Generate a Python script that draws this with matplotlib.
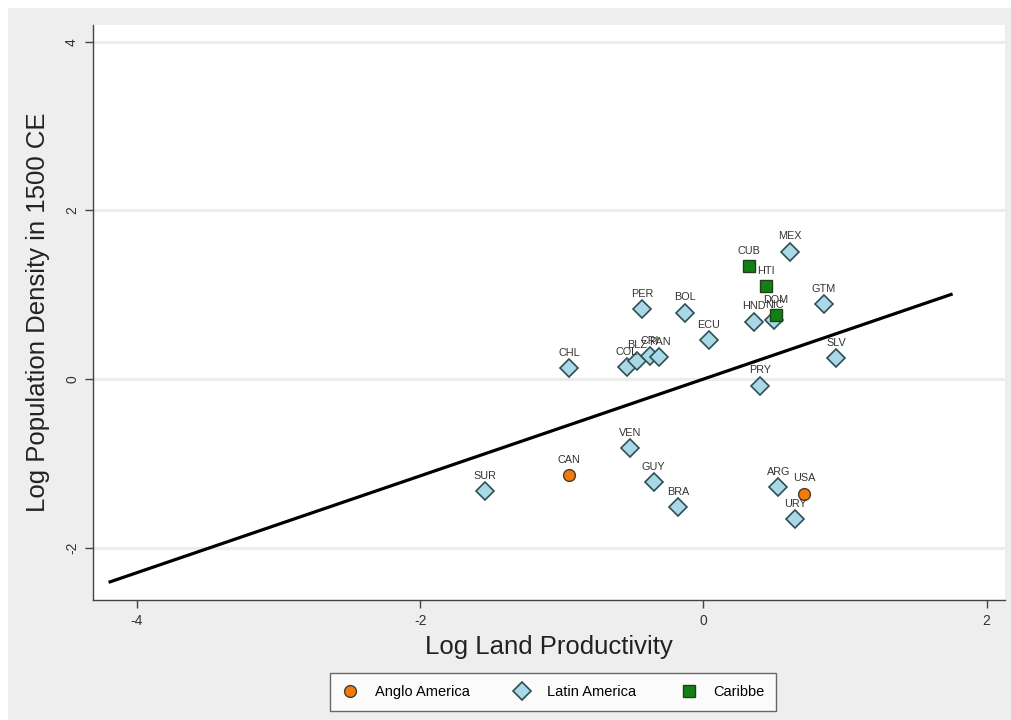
import numpy as np
import matplotlib
matplotlib.use("Agg")
import matplotlib.pyplot as plt
from matplotlib.patches import Rectangle

plt.rcParams['font.family'] = ['Liberation Sans', 'DejaVu Sans']
plt.rcParams['axes.unicode_minus'] = False

# ==================================================
# DATA
# ==================================================

latin_codes = ["MEX", "GTM", "SLV", "PRY", "HND", "NIC", "ECU", "BOL", "PER",
               "CHL", "COL", "BLZ", "CRI", "PAN", "VEN", "GUY", "BRA", "ARG",
               "URY", "SUR"]
latin_x = [0.61, 0.85, 0.94, 0.40, 0.36, 0.50, 0.04, -0.13, -0.43,
           -0.95, -0.54, -0.47, -0.38, -0.31, -0.52, -0.35, -0.18, 0.53,
           0.65, -1.54]
latin_y = [1.51, 0.89, 0.25, -0.08, 0.68, 0.70, 0.46, 0.79, 0.83,
           0.13, 0.14, 0.22, 0.27, 0.26, -0.82, -1.22, -1.52, -1.28,
           -1.66, -1.33]

anglo_codes = ["CAN", "USA"]
anglo_x = [-0.95, 0.71]
anglo_y = [-1.14, -1.36]

carib_codes = ["CUB", "HTI", "DOM"]
carib_x = [0.32, 0.44, 0.51]
carib_y = [1.34, 1.10, 0.76]

# fitted line
fit_slope = 0.574
fit_intercept = 0.0
fit_range = [-4.2, 1.76]

# ==================================================
# FIGURE
# ==================================================

fig = plt.figure(figsize=(10.11, 7.2), dpi=100)
fig.patch.set_facecolor("#eeeeee")
# thin white margin on the left and top
fig.patches.append(Rectangle((0, 0), 8 / 1011, 1, transform=fig.transFigure,
                             facecolor="white", edgecolor="none", zorder=0))
fig.patches.append(Rectangle((0, 1 - 8 / 720), 1, 8 / 720, transform=fig.transFigure,
                             facecolor="white", edgecolor="none", zorder=0))

ax = fig.add_axes([93 / 1011, 1 - 600 / 720, (1005 - 93) / 1011, (600 - 25) / 720])
ax.set_facecolor("white")

ax.set_xlim(-4.31, 2.13)
ax.set_ylim(-2.62, 4.2)

for gy in [-2, 0, 2, 4]:
    ax.axhline(gy, color="#ececec", lw=2.2, zorder=0)

# regression line
fx = np.array(fit_range)
ax.plot(fx, fit_slope * fx + fit_intercept, color="black", lw=2.3, zorder=2,
        solid_capstyle="butt")

ax.plot(anglo_x, anglo_y, "o", ms=8.5, mfc="#f37b0c", mec="#4a3a2a", mew=1.0,
        ls="none", zorder=3, label="Anglo America")
ax.plot(latin_x, latin_y, "D", ms=9.5, mfc="#a9d8e6", mec="#2f4f55", mew=1.2,
        ls="none", zorder=3, label="Latin America")
ax.plot(carib_x, carib_y, "s", ms=8.5, mfc="#138013", mec="#1f3f1f", mew=1.0,
        ls="none", zorder=4, label="Caribbe")

# country labels above the markers
for codes, xs, ys in [(latin_codes, latin_x, latin_y),
                      (anglo_codes, anglo_x, anglo_y),
                      (carib_codes, carib_x, carib_y)]:
    for c, xv, yv in zip(codes, xs, ys):
        ax.annotate(c, (xv, yv), xytext=(0, 7.5), textcoords="offset points",
                    ha="center", va="bottom", fontsize=7.8, color="#333333",
                    zorder=5)

# axes styling
for side in ["top", "right"]:
    ax.spines[side].set_visible(False)
for side in ["left", "bottom"]:
    ax.spines[side].set_color("#444444")
    ax.spines[side].set_linewidth(1.0)

ax.set_xticks([-4, -2, 0, 2])
ax.set_yticks([-2, 0, 2, 4])
ax.tick_params(axis="both", length=6, width=1, color="#444444",
               labelsize=10, labelcolor="#333333", pad=4)
for lbl in ax.get_yticklabels():
    lbl.set_rotation(90)
    lbl.set_va("center")

ax.set_xlabel("Log Land Productivity", fontsize=18.5, color="#222222", labelpad=5)
ax.set_ylabel("Log Population Density in 1500 CE", fontsize=18.5, color="#222222",
              labelpad=11)

leg = fig.legend(loc="center", bbox_to_anchor=(553 / 1011, 1 - 692 / 720), ncol=3,
                 frameon=True, fancybox=False, fontsize=10.5, columnspacing=3.0,
                 handletextpad=1.1, borderpad=0.8, handlelength=1.2)
leg.get_frame().set_edgecolor("#444444")
leg.get_frame().set_linewidth(1.0)
leg.get_frame().set_facecolor("white")

fig.savefig("out.png", dpi=100, facecolor=fig.get_facecolor())
